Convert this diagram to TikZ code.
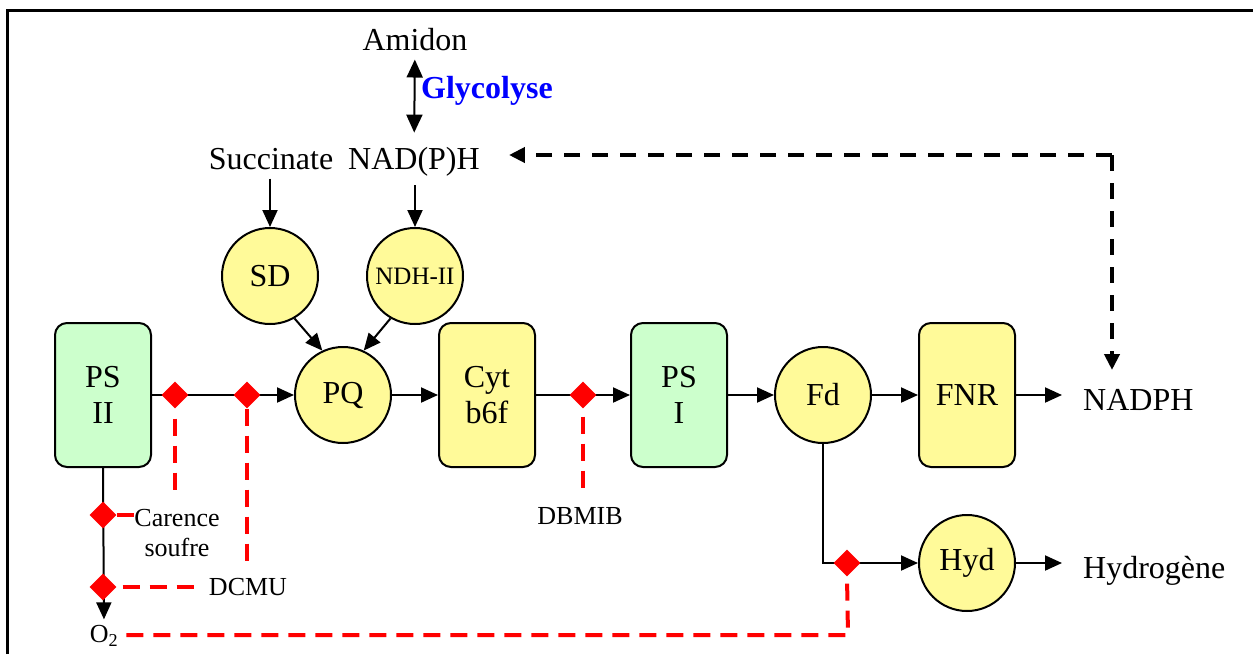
\documentclass[tikz,border=0pt]{standalone}
\usepackage{fontspec}
\setmainfont{Liberation Serif}
\usetikzlibrary{arrows.meta,shapes.geometric}
\begin{document}
\begin{tikzpicture}[x=1pt,y=-1pt,
  big/.style={font=\fontsize{32}{36}\selectfont},
  small/.style={font=\fontsize{26}{30}\selectfont},
  tip/.style={-{Triangle[length=17pt,width=15pt]}},
  ln/.style={line width=2pt},
  arr/.style={ln,tip},
  box/.style={draw,line width=2pt,rounded corners=12pt,minimum width=96pt,minimum height=144pt,align=center,big,inner sep=0pt},
  gbox/.style={box,fill=green!20},
  ybox/.style={box,fill=yellow!40},
  circ/.style={draw,line width=2pt,circle,minimum size=96pt,inner sep=0pt,fill=yellow!40,big},
  dia/.style={diamond,fill=red,minimum size=27pt,inner sep=0pt},
  rdash/.style={draw=red,line width=4pt,dash pattern=on 17pt off 10pt},
  bdash/.style={line width=4pt,dash pattern=on 16pt off 12pt},
  lbl/.style={inner sep=0pt}
]
\useasboundingbox (0,0) rectangle (1253,654);
% frame
\draw[line width=3pt] (7,654) -- (7,10) -- (1253,10);

% top texts
\node[big,lbl,anchor=base] (amidon) at (415,50) {Amidon};
\node[big,lbl,anchor=base] (nadph1) at (414,169) {NAD(P)H};
\node[big,lbl,anchor=base] (succ) at (271,169) {Succinate};
\node[big,lbl,anchor=base west,text=blue,font=\fontsize{32}{36}\selectfont\bfseries] (glyco) at (421,98) {Glycolyse};
\draw[ln,{Triangle[length=18pt,width=16pt]}-{Triangle[length=18pt,width=16pt]},shorten <=9pt,shorten >=14pt] (amidon) -- (nadph1);

% circles
\node[circ] (sd) at (270,276) {SD};
\node[circ,font=\fontsize{25}{30}\selectfont] (ndh) at (415,276) {NDH-II};
\node[circ] (pq) at (343,395) {PQ};
\node[circ] (fd) at (823,395) {Fd};
\node[circ] (hyd) at (967,563) {Hyd};

\draw[arr,shorten <=9pt] (succ.south -| sd.north) -- (sd.north);
\draw[arr,shorten <=9pt] (nadph1.south -| ndh.north) -- (ndh.north);
\draw[arr] (sd.-60) -- (pq.115);
\draw[arr] (ndh.-120) -- (pq.65);

% boxes
\node[gbox] (psii) at (103,395) {PS\\II};
\node[ybox] (cyt) at (487,395) {Cyt\\b6f};
\node[gbox] (psi) at (679,395) {PS\\I};
\node[ybox] (fnr) at (967,395) {FNR};

% right texts
\node[big,lbl,anchor=base west] (nadph2) at (1083,410) {NADPH};
\node[big,lbl,anchor=base west] (h2) at (1083,578) {Hydrogène};

% small texts
\node[small,lbl,align=center] (carence) at (177,533) {Carence\\soufre};
\node[small,lbl] (dcmu) at (248,587) {DCMU};
\node[small,lbl,anchor=base] (dbmib) at (580,524) {DBMIB};
\node[small,lbl] (o2) at (104,636) {O\textsubscript{2}};

% main chain
\draw[arr] (psii) -- (pq);
\draw[arr] (pq) -- (cyt);
\draw[arr] (cyt) -- (psi);
\draw[arr] (psi) -- (fd);
\draw[arr] (fd) -- (fnr);
\draw[arr,shorten >=21pt] (fnr.east) -- (nadph2.west |- fnr.east);
\draw[arr,shorten >=21pt] (hyd.east) -- (h2.west |- hyd.east);
\draw[arr] (fd.south) |- (hyd.west);
\draw[arr,shorten >=6pt] (psii.south) -- (o2.north);

% diamonds
\node[dia] (d1) at (175,395) {};
\node[dia] (d2) at (247,395) {};
\node[dia] (d3) at (583,395) {};
\node[dia] (d4) at (103,515) {};
\node[dia] (d5) at (103,587) {};
\node[dia] (d6) at (847,563) {};

% red dashed inhibitor lines
\draw[rdash,shorten <=10pt] (d1.south) -- (d1.south |- 0,492);
\draw[rdash] (d2.south) -- (d2.south |- dcmu.north) [shorten >=11pt];
\draw[rdash,shorten <=8pt] (d3.south) -- (d3.south |- 0,491);
\draw[draw=red,line width=4pt] (d4.east) -- (d4.east -| carence.west);
\draw[rdash,shorten <=6pt,shorten >=11pt] (d5.east) -- (dcmu.west);
\draw[rdash,shorten <=8pt] (o2.east |- 0,635) -- (848,635) -- (d6.south);

% black dashed NADPH link
\coordinate (corner) at (1112,155);
\coordinate (ntip) at (1112,370);
\draw[bdash,-{Triangle[length=16pt,width=15pt]}] (corner) -- (ntip);
\draw[bdash,-{Triangle[length=16pt,width=15pt]},shorten >=29pt] (corner) -- (nadph1.east |- corner);
\end{tikzpicture}
\end{document}
